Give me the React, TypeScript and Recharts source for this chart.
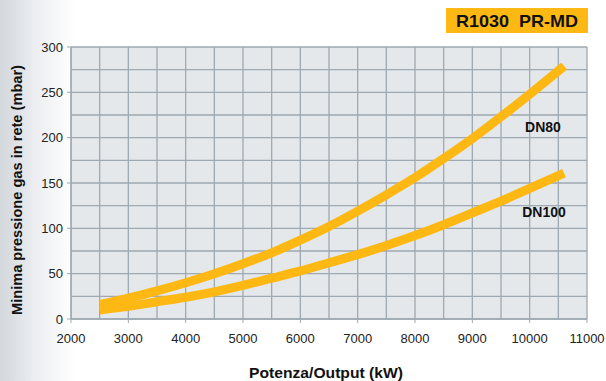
import React from "react";
import { LineChart, Line, XAxis, YAxis, CartesianGrid } from "recharts";

// ── Data ─────────────────────────────────────────────────────────────────────

const output = [2500, 3000, 3500, 4000, 4500, 5000, 5500, 6000, 6500, 7000, 7500, 8000, 8500, 9000, 9500, 10000, 10600];
const dn80 = [16, 23, 31, 40, 50, 61, 73, 87, 102, 119, 137, 156, 177, 199, 223, 248, 279];
const dn100 = [10, 14, 19, 24, 30, 37, 45, 53, 62, 71, 81, 92, 104, 117, 130, 144, 161];

const xTicks = [2000, 2500, 3000, 3500, 4000, 4500, 5000, 5500, 6000, 6500, 7000, 7500, 8000, 8500, 9000, 9500, 10000, 10500, 11000];
const yTicks = [0, 25, 50, 75, 100, 125, 150, 175, 200, 225, 250, 275, 300];

const data = output.map((x, i) => ({ x, dn80: dn80[i], dn100: dn100[i] }));

const YELLOW = "#fdb813";
const GRID = "#9ea9b1";
const FONT = "'Liberation Sans', Arial, sans-serif";

// ── Ticks ────────────────────────────────────────────────────────────────────

function XTick({ x, y, payload }: any) {
  if (payload.value % 1000 !== 0) return <g />;
  return (
    <g>
      <line x1={x} x2={x} y1={y} y2={y + 4} stroke={GRID} />
      <text x={x} y={y + 24} textAnchor="middle" fontSize={13} fill="#222" fontFamily={FONT}>
        {payload.value}
      </text>
    </g>
  );
}

function YTick({ x, y, payload }: any) {
  if (payload.value % 50 !== 0) return <g />;
  return (
    <g>
      <line x1={x - 4} x2={x} y1={y} y2={y} stroke={GRID} />
      <text x={x - 8} y={y + 4.5} textAnchor="end" fontSize={13} fill="#222" fontFamily={FONT}>
        {payload.value}
      </text>
    </g>
  );
}

// ── Chart ────────────────────────────────────────────────────────────────────

export default function App() {
  return (
    <div
      style={{
        position: "absolute",
        left: 0,
        top: 0,
        width: 606,
        height: 381,
        overflow: "hidden",
        background: "linear-gradient(to right, #d2d7dc 0px, #eceef1 35px, #ffffff 75px)",
        fontFamily: FONT,
      }}
    >
      <LineChart width={606} height={381} data={data} margin={{ top: 47, right: 19, bottom: 32, left: 0 }}>
        <CartesianGrid fill="#e5e8eb" stroke={GRID} strokeWidth={1.3} />
        <XAxis
          dataKey="x"
          type="number"
          domain={[2000, 11000]}
          ticks={xTicks}
          interval={0}
          height={30}
          tickSize={0}
          tickMargin={0}
          tickLine={false}
          axisLine={{ stroke: GRID, strokeWidth: 1.3 }}
          tick={<XTick />}
        />
        <YAxis
          type="number"
          domain={[0, 300]}
          ticks={yTicks}
          interval={0}
          width={71}
          tickSize={0}
          tickMargin={0}
          tickLine={false}
          axisLine={{ stroke: GRID, strokeWidth: 1.3 }}
          tick={<YTick />}
        />
        <Line type="monotone" dataKey="dn80" stroke={YELLOW} strokeWidth={9} dot={false} isAnimationActive={false} />
        <Line type="monotone" dataKey="dn100" stroke={YELLOW} strokeWidth={9} dot={false} isAnimationActive={false} />
      </LineChart>

      <svg width={606} height={381} style={{ position: "absolute", left: 0, top: 0, pointerEvents: "none" }}>
        <rect x={446} y={8} width={142} height={25} fill={YELLOW} />
        <text
          x={517}
          y={26.5}
          textAnchor="middle"
          fontSize={17}
          fontWeight="bold"
          fill="#111"
          fontFamily={FONT}
          textLength={122}
          lengthAdjust="spacingAndGlyphs"
        >
          R1030{"\u00a0\u00a0"}PR-MD
        </text>
        <text x={543} y={132} textAnchor="middle" fontSize={14} fontWeight="bold" fill="#111" fontFamily={FONT}>
          DN80
        </text>
        <text x={544} y={217} textAnchor="middle" fontSize={14} fontWeight="bold" fill="#111" fontFamily={FONT}>
          DN100
        </text>
        <text
          x={326}
          y={378}
          textAnchor="middle"
          fontSize={15}
          fontWeight="bold"
          fill="#111"
          fontFamily={FONT}
          textLength={154}
          lengthAdjust="spacingAndGlyphs"
        >
          Potenza/Output (kW)
        </text>
        <text
          transform="translate(22, 190) rotate(-90)"
          textAnchor="middle"
          fontSize={15}
          fontWeight="bold"
          fill="#111"
          fontFamily={FONT}
          textLength={250}
          lengthAdjust="spacingAndGlyphs"
        >
          Minima pressione gas in rete (mbar)
        </text>
      </svg>
    </div>
  );
}
